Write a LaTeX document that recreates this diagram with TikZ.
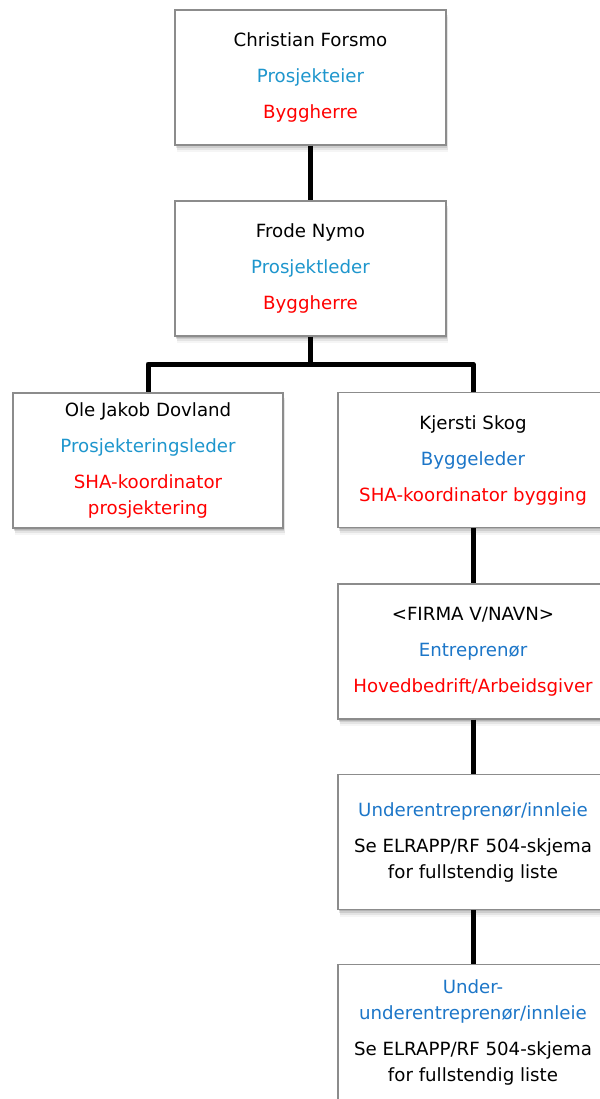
\documentclass[tikz,border=0pt]{standalone}
\usepackage{fontspec}
\setmainfont{DejaVu Sans}
\usetikzlibrary{shadows}
\definecolor{lblue}{RGB}{30,150,205}
\definecolor{dblue}{RGB}{28,118,200}
\definecolor{bordergray}{RGB}{140,140,140}
\tikzset{
  softshadow/.style={
    drop shadow={shadow xshift=0.5pt, shadow yshift=-1.5pt, opacity=0.12, fill=black},
    drop shadow={shadow xshift=1pt, shadow yshift=-3pt, opacity=0.10, fill=black},
    drop shadow={shadow xshift=1.5pt, shadow yshift=-5pt, opacity=0.07, fill=black},
    drop shadow={shadow xshift=2pt, shadow yshift=-7pt, opacity=0.04, fill=black}},
  orgbox/.style={draw=bordergray, line width=1.2pt, fill=white, minimum width=270pt,
    minimum height=135pt, inner sep=0pt, align=center,
    font=\fontsize{18.2}{26}\selectfont, softshadow},
  link/.style={line width=5pt, line join=round, black}
}
\begin{document}
\begin{tikzpicture}[x=1pt,y=-1pt]
\useasboundingbox (0,0) rectangle (599,1099);
\node[orgbox, minimum width=271pt] (b1) at (310.5,77.5) {Christian Forsmo\\[10pt]\textcolor{lblue}{Prosjekteier}\\[10pt]\textcolor{red}{Byggherre}};
\node[orgbox, minimum width=271pt] (b2) at (310.5,268.5) {Frode Nymo\\[10pt]\textcolor{lblue}{Prosjektleder}\\[10pt]\textcolor{red}{Byggherre}};
\node[orgbox] (b3) at (148,460.5) {Ole Jakob Dovland\\[10pt]\textcolor{lblue}{Prosjekteringsleder}\\[10pt]\textcolor{red}{SHA-koordinator}\\\textcolor{red}{prosjektering}};
\node[orgbox] (b4) at (473,460) {Kjersti Skog\\[10pt]\textcolor{dblue}{Byggeleder}\\[10pt]\textcolor{red}{SHA-koordinator bygging}};
\node[orgbox] (b5) at (473,651.5) {<FIRMA V/NAVN>\\[10pt]\textcolor{dblue}{Entreprenør}\\[10pt]\textcolor{red}{Hovedbedrift/Arbeidsgiver}};
\node[orgbox] (b6) at (473,842) {\textcolor{dblue}{Underentreprenør/innleie}\\[10pt]Se ELRAPP/RF 504-skjema\\for fullstendig liste};
\node[orgbox] (b7) at (473,1032) {\textcolor{dblue}{Under-}\\\textcolor{dblue}{underentreprenør/innleie}\\[10pt]Se ELRAPP/RF 504-skjema\\for fullstendig liste};
\coordinate (bus) at (310.5,364);
\draw[link] (b1.south) -- (b2.north);
\draw[link] (b2.south) -- (bus) -| (b3.north);
\draw[link] (bus) -| (b4.north);
\draw[link] (b4.south) -- (b5.north);
\draw[link] (b5.south) -- (b6.north);
\draw[link] (b6.south) -- (b7.north);
\end{tikzpicture}
\end{document}
